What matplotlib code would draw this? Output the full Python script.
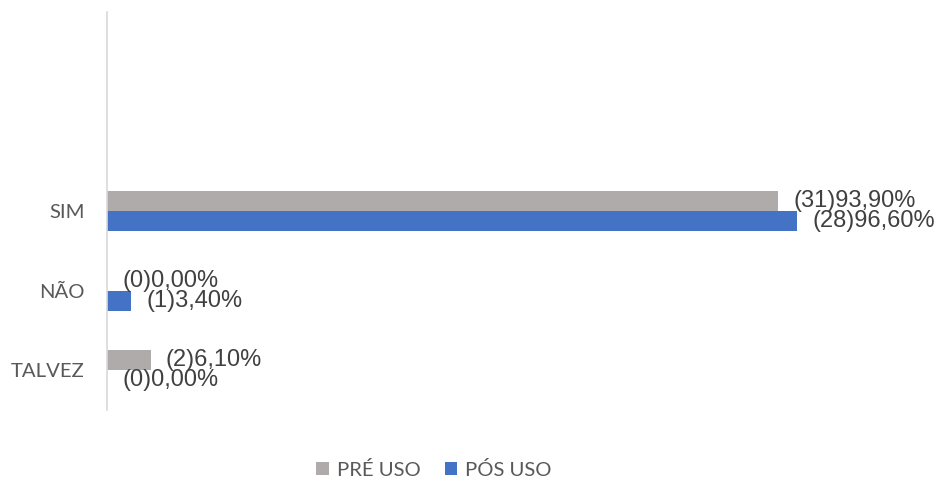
import matplotlib
matplotlib.use("Agg")
import matplotlib.pyplot as plt
from matplotlib.patches import Patch

categories = ["TALVEZ", "NÃO", "SIM", "", ""]
pre_counts = [2, 0, 31]
pre_pct = [6.10, 0.00, 93.90]
post_counts = [0, 1, 28]
post_pct = [0.00, 3.40, 96.60]
series_names = ["PRÉ USO", "PÓS USO"]

gray = "#AFABAB"
blue = "#4472C4"
text_gray = "#595959"
label_color = "#404040"

W, H = 940, 482
fig = plt.figure(figsize=(W / 100, H / 100), dpi=100)
ax = fig.add_axes([107 / W, 72 / H, (W - 107) / W, 398 / H])

bar_h = 0.25
y = list(range(len(categories)))
n = len(pre_pct)
ax.barh([v + bar_h / 2 for v in y[:n]], pre_pct, height=bar_h, color=gray)
ax.barh([v - bar_h / 2 for v in y[:n]], post_pct, height=bar_h, color=blue)

def fmt(c, p):
    return f"({c}){p:.2f}%".replace(".", ",")

for i in range(n):
    for cnt, pct, off in ((pre_counts[i], pre_pct[i], bar_h / 2),
                          (post_counts[i], post_pct[i], -bar_h / 2)):
        ax.annotate(fmt(cnt, pct), xy=(pct, y[i] + off), xytext=(15, 0),
                    textcoords="offset pixels", ha="left", va="center",
                    fontsize=17, color=label_color, family="Liberation Sans",
                    annotation_clip=False)

px_per_unit = 7.146
ax.set_xlim(0, (W - 107) / px_per_unit)
ax.set_ylim(-0.5, len(categories) - 0.5)
ax.set_yticks(y)
ax.set_yticklabels(categories, family="Lato", fontsize=14.6, color=text_gray)
ax.tick_params(axis="y", length=0, pad=16)
ax.set_xticks([])
for s in ("top", "right", "bottom"):
    ax.spines[s].set_visible(False)
ax.spines["left"].set_color("#D9D9D9")
ax.spines["left"].set_linewidth(1.2)

handles = [Patch(facecolor=gray, label=series_names[0]),
           Patch(facecolor=blue, label=series_names[1])]
fig.legend(handles=handles, loc="center", bbox_to_anchor=(434 / W, 1 - 470 / H),
           ncol=2, frameon=False, prop={"family": "Lato", "size": 14.6},
           labelcolor=text_gray, handlelength=0.6, handleheight=0.6,
           handletextpad=0.4, columnspacing=1.2)

fig.savefig("out.png", dpi=100)
